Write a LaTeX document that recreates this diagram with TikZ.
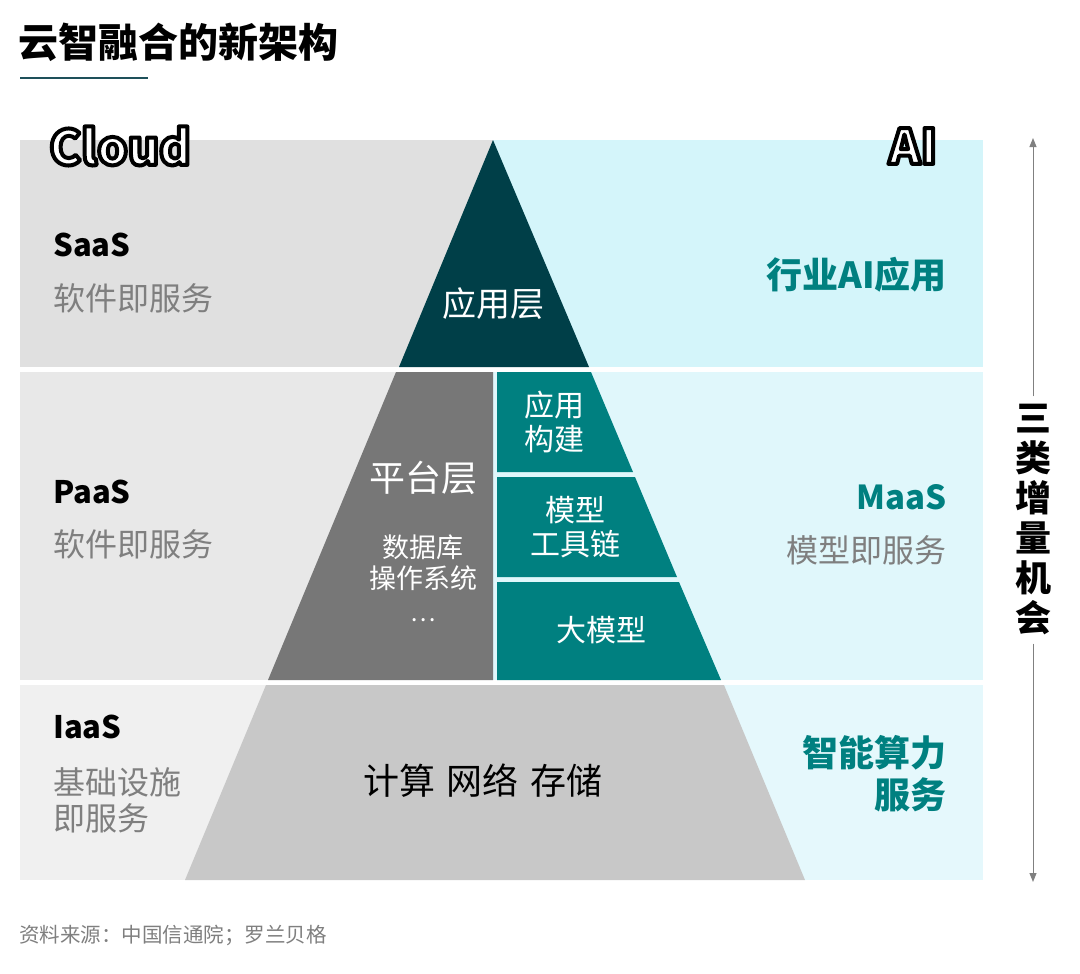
\documentclass[tikz,border=0pt]{standalone}
\usepackage{fontspec}
\setmainfont{Noto Sans CJK SC}
\usetikzlibrary{arrows.meta}
\definecolor{teal1}{HTML}{008080}
\definecolor{dark1}{HTML}{003F48}
\definecolor{gtxt}{HTML}{7F7F7F}
\tikzset{
 t/.style={inner sep=0,font=\fontsize{#1}{#1}\selectfont},
 tb/.style={inner sep=0,font=\fontsize{#1}{#1}\selectfont\bfseries},
 lab/.style={t=32,anchor=west},
}
\newcommand{\outltxt}[1]{{\color{white}\special{pdf:literal 2 Tr 4 w 1 j 0 G}#1\special{pdf:literal 0 Tr}}}
\begin{document}
\begin{tikzpicture}[x=1pt,y=-1pt]
\useasboundingbox (0,0) rectangle (1080,974);
\fill[white] (0,0) rectangle (1080,974);
% bands
\fill[fill={rgb,255:red,224;green,224;blue,224}] (20,140) rectangle (493,367);
\fill[fill={rgb,255:red,212;green,245;blue,250}] (493,140) rectangle (983,367);
\fill[fill={rgb,255:red,232;green,232;blue,232}] (20,372) rectangle (493,680);
\fill[fill={rgb,255:red,224;green,247;blue,251}] (493,372) rectangle (983,680);
\fill[fill={rgb,255:red,240;green,240;blue,240}] (20,685) rectangle (493,880);
\fill[fill={rgb,255:red,229;green,248;blue,252}] (493,685) rectangle (983,880);
% pyramid
\fill[dark1] (493,140) -- (589,367) -- (399,367) -- cycle;
\fill[fill={rgb,255:red,119;green,119;blue,119}] (396,372) -- (493,372) -- (493,680) -- (268,680) -- cycle;
\fill[teal1] (497,372) -- (591,372) -- (633,472) -- (497,472) -- cycle;
\fill[teal1] (497,477) -- (635,477) -- (677,577) -- (497,577) -- cycle;
\fill[teal1] (497,582) -- (679,582) -- (721,680) -- (497,680) -- cycle;
\fill[fill={rgb,255:red,200;green,200;blue,200}] (266,685) -- (724,685) -- (805,880) -- (185,880) -- cycle;
% title
\node[tb=40,anchor=west] (title) at (18,42) {云智融合的新架构};
\draw[line width=2.5pt,color={rgb,255:red,30;green,80;blue,90}] (20,78) -- (148,78);
\node[tb=48] (cloud) at (120,146) {\outltxt{Cloud}};
\node[tb=48] (ai) at (913,146) {\outltxt{AI}};
% left labels
\node[lab,tb=31] (saas) at (53,245) {SaaS};
\node[lab,text=gtxt] (saas2) at (53,298) {软件即服务};
\node[lab,tb=31] (paas) at (53,492) {PaaS};
\node[lab,text=gtxt] (paas2) at (53,544) {软件即服务};
\node[lab,tb=31] (iaas) at (53,727) {IaaS};
\node[lab,text=gtxt,align=left] (iaas2) at (53,800) {基础设施\\[4pt]即服务};
% pyramid labels
\node[t=34,text=white] (app) at (493,304) {应用层};
\node[t=36,text=white] (plat) at (423,478) {平台层};
\node[t=27,text=white,align=center] (plat2) at (423,563) {数据库\\[4pt]操作系统};
\node[t=24,text=white] (dots) at (423,620) {…};
\node[t=30,text=white,align=center] (b1) at (554,422) {应用\\[4pt]构建};
\node[t=30,text=white,align=center] (b2) at (575,527) {模型\\[4pt]工具链};
\node[t=30,text=white] (b3) at (601,630) {大模型};
\node[t=36] (iaasc) at (483,781) {计算\hspace{12pt}网络\hspace{12pt}存储};
% right labels
\node[tb=36,anchor=east,text=teal1] (r1) at (947,275) {行业AI应用};
\node[tb=33,anchor=east,text=teal1] (r2) at (947,497) {MaaS};
\node[t=32,anchor=east,text=gtxt] (r3) at (947,550) {模型即服务};
\node[tb=36,anchor=east,text=teal1,align=right] (r4) at (947,774) {智能算力\\[6pt]服务};
% right arrow
\node[tb=36,align=center] (three) at (1033,520) {三\\[4pt]类\\[4pt]增\\[4pt]量\\[4pt]机\\[4pt]会};
\coordinate (atop) at (1033,138);
\coordinate (abot) at (1033,882);
\draw[gray,line width=1pt,-{Triangle[length=9pt,width=7pt]}] (three.north) ++(0,-8) -- (atop);
\draw[gray,line width=1pt,-{Triangle[length=9pt,width=7pt]}] (three.south) ++(0,8) -- (abot);
\node[t=20.5,anchor=west,text=gtxt] (src) at (19,935) {资料来源：中国信通院；罗兰贝格};
\end{tikzpicture}
\end{document}
